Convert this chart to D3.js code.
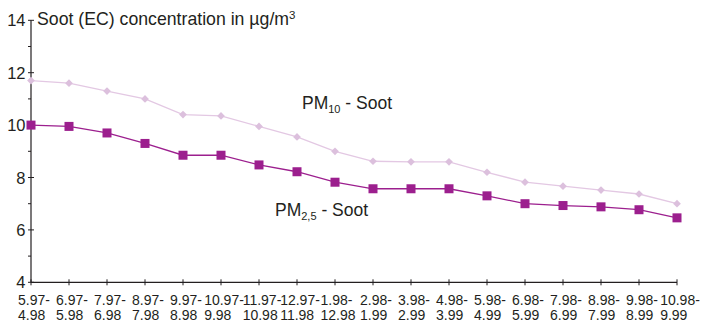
<!DOCTYPE html>
<html>
<head>
<meta charset="utf-8">
<script src="https://cdn.jsdelivr.net/npm/d3@7/dist/d3.min.js"></script>
<style>
  html, body { margin: 0; padding: 0; background: #fff; }
  svg { display: block; font-family: "Liberation Sans", Arial, sans-serif; }
</style>
</head>
<body>
<svg id="chart" width="702" height="324"></svg>
<script>
// Monthly periods (start – end) of the rolling twelve‑month means
const periodStart = ["5.97-", "6.97-", "7.97-", "8.97-", "9.97-", "10.97-", "11.97-", "12.97-", "1.98-",
                     "2.98-", "3.98-", "4.98-", "5.98-", "6.98-", "7.98-", "8.98-", "9.98-", "10.98-"];
const periodEnd   = ["4.98", "5.98", "6.98", "7.98", "8.98", "9.98", "10.98", "11.98", "12.98",
                     "1.99", "2.99", "3.99", "4.99", "5.99", "6.99", "7.99", "8.99", "9.99"];

// Soot (EC) concentrations in µg/m³
const pm10Soot  = [11.7, 11.6, 11.3, 11.0, 10.4, 10.35, 9.95, 9.55, 9.0, 8.62, 8.6, 8.6, 8.2, 7.82, 7.67, 7.52, 7.37, 7.0];
const pm25Soot  = [10.0, 9.95, 9.7, 9.3, 8.85, 8.85, 8.48, 8.22, 7.82, 7.57, 7.57, 7.57, 7.3, 7.0, 6.93, 6.88, 6.77, 6.46];

const yMajorTicks = [4, 6, 8, 10, 12, 14];
const yMinorTicks = [5, 7, 9, 11, 13];

const svg = d3.select("#chart");
const textColor = "#231f20";
const pm10Color = "#e3c8e3";
const pm10Mark  = "#dcc0dd";
const pm25Color = "#9c1f8e";

const x = d3.scalePoint()
  .domain(d3.range(periodStart.length))
  .range([31, 677]);

const y = d3.scaleLinear()
  .domain([4, 14])
  .range([282.3, 20.3]);

// Y axis
const gY = svg.append("g").attr("class", "y-axis");
gY.append("line")
  .attr("x1", x(0)).attr("x2", x(0))
  .attr("y1", y(14)).attr("y2", y(4))
  .attr("stroke", textColor).attr("stroke-width", 1.2);
gY.selectAll("line.major").data(yMajorTicks).join("line")
  .attr("class", "major")
  .attr("x1", x(0) - 3).attr("x2", x(0) + 3)
  .attr("y1", d => y(d)).attr("y2", d => y(d))
  .attr("stroke", textColor).attr("stroke-width", 1);
gY.selectAll("line.minor").data(yMinorTicks).join("line")
  .attr("class", "minor")
  .attr("x1", x(0) - 3).attr("x2", x(0))
  .attr("y1", d => y(d)).attr("y2", d => y(d))
  .attr("stroke", textColor).attr("stroke-width", 1);
gY.selectAll("text").data(yMajorTicks).join("text")
  .attr("x", x(0) - 5.5)
  .attr("y", d => y(d) + 6)
  .attr("text-anchor", "end")
  .attr("font-size", 16.5)
  .attr("fill", textColor)
  .text(d => d);

// X axis
const gX = svg.append("g").attr("class", "x-axis");
gX.append("line")
  .attr("x1", x(0)).attr("x2", x(periodStart.length - 1))
  .attr("y1", y(4)).attr("y2", y(4))
  .attr("stroke", textColor).attr("stroke-width", 1.2);
gX.selectAll("line.tick").data(d3.range(periodStart.length)).join("line")
  .attr("class", "tick")
  .attr("x1", d => x(d)).attr("x2", d => x(d))
  .attr("y1", y(4) - 3).attr("y2", y(4) + 3)
  .attr("stroke", textColor).attr("stroke-width", 1);

// Two-line period labels: left-aligned block, centred under each tick
const lbl = gX.selectAll("g.lbl").data(d3.range(periodStart.length)).join("g")
  .attr("class", "lbl");
const first = lbl.append("text")
  .attr("y", 304.5)
  .attr("font-size", 14)
  .attr("fill", textColor)
  .text(d => periodStart[d]);
const second = lbl.append("text")
  .attr("y", 320)
  .attr("font-size", 14)
  .attr("fill", textColor)
  .text(d => periodEnd[d]);
lbl.each(function (d) {
  const g = d3.select(this);
  const w = Math.max(
    g.select("text:nth-child(1)").node().getComputedTextLength(),
    g.select("text:nth-child(2)").node().getComputedTextLength()
  );
  const left = x(d) - w / 2 + 3;
  g.selectAll("text").attr("x", left);
});

// Axis title
const title = svg.append("text")
  .attr("x", 37).attr("y", 25)
  .attr("font-size", 17.7)
  .attr("fill", textColor);
title.append("tspan").text("Soot (EC) concentration in µg/m");
title.append("tspan").attr("dy", -6.5).attr("font-size", 11.5).text("3");

const line = d3.line()
  .x((d, i) => x(i))
  .y(d => y(d));

// PM10 series
svg.append("path").datum(pm10Soot)
  .attr("d", line)
  .attr("fill", "none")
  .attr("stroke", pm10Color)
  .attr("stroke-width", 1.3);
svg.append("g").selectAll("path").data(pm10Soot).join("path")
  .attr("d", d3.symbol(d3.symbolDiamond2, 38))
  .attr("transform", (d, i) => `translate(${x(i)},${y(d)})`)
  .attr("fill", pm10Mark);

// PM2.5 series
svg.append("path").datum(pm25Soot)
  .attr("d", line)
  .attr("fill", "none")
  .attr("stroke", pm25Color)
  .attr("stroke-width", 1.3);
svg.append("g").selectAll("rect").data(pm25Soot).join("rect")
  .attr("x", (d, i) => x(i) - 4.5)
  .attr("y", d => y(d) - 4.5)
  .attr("width", 9).attr("height", 9)
  .attr("fill", pm25Color);

// Series labels
const l10 = svg.append("text")
  .attr("x", 302).attr("y", 109)
  .attr("font-size", 17.5)
  .attr("fill", textColor);
l10.append("tspan").text("PM");
l10.append("tspan").attr("dy", 4).attr("font-size", 11).text("10");
l10.append("tspan").attr("dy", -4).text(" - Soot");

const l25 = svg.append("text")
  .attr("x", 275).attr("y", 216)
  .attr("font-size", 17.5)
  .attr("fill", textColor);
l25.append("tspan").text("PM");
l25.append("tspan").attr("dy", 4).attr("font-size", 11).text("2,5");
l25.append("tspan").attr("dy", -4).text(" - Soot");
</script>
</body>
</html>
